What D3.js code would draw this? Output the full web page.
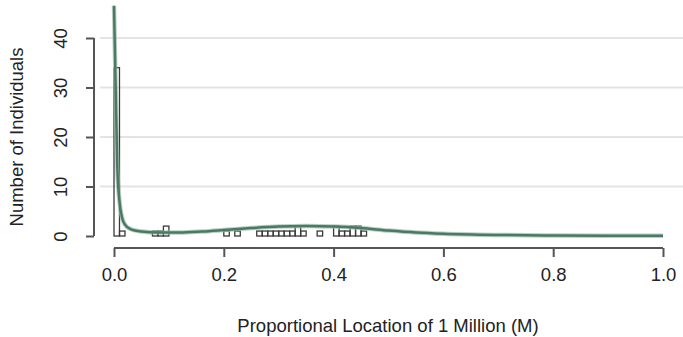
<!DOCTYPE html>
<html>
<head>
<meta charset="utf-8">
<script src="https://cdn.jsdelivr.net/npm/d3@7"></script>
<style>
  body { margin: 0; background: #fff; }
  svg text { font-family: "Liberation Sans", Arial, sans-serif; fill: #222; }
</style>
</head>
<body>
<svg id="chart" width="683" height="337"></svg>
<script>
// histogram bins (left edge, width 0.01) and counts
const binStarts = [0.00, 0.01, 0.07, 0.08, 0.09, 0.20, 0.22, 0.26, 0.27, 0.28, 0.29, 0.30,
                   0.31, 0.32, 0.33, 0.34, 0.37, 0.40, 0.41, 0.42, 0.43, 0.44, 0.45];
const binCounts = [34, 1, 1, 1, 2, 1, 1, 1, 1, 1, 1, 1,
                   1, 1, 2, 1, 1, 2, 1, 1, 2, 2, 1];
const binWidth = 0.01;

// smoothed density curve, scaled to counts
const curveX = [0.000, 0.003, 0.006, 0.010, 0.015, 0.020, 0.030, 0.050, 0.080, 0.120, 0.160,
                0.200, 0.250, 0.300, 0.350, 0.400, 0.450, 0.500, 0.550, 0.600, 0.700, 0.800, 0.900, 1.000];
const curveY = [46.5, 30, 14, 7, 3.6, 2.3, 1.4, 0.9, 0.7, 0.7, 0.9,
                1.2, 1.6, 1.9, 2.0, 1.9, 1.6, 1.1, 0.7, 0.45, 0.2, 0.1, 0.05, 0.03];

const xTicks = [0, 0.2, 0.4, 0.6, 0.8, 1.0];
const yTicks = [0, 10, 20, 30, 40];

const svg = d3.select("#chart");
const x = d3.scaleLinear().domain([0, 1]).range([114, 663]);
const y = d3.scaleLinear().domain([0, 40]).range([236, 38]);
const axisColor = "#555";
const fs = 18.5;

// gridlines
svg.append("g").selectAll("line")
  .data(yTicks.filter(d => d > 0))
  .enter().append("line")
    .attr("x1", 100).attr("x2", 683)
    .attr("y1", d => y(d)).attr("y2", d => y(d))
    .attr("stroke", "#e4e4e4").attr("stroke-width", 2);

// histogram
svg.append("g").selectAll("rect")
  .data(binStarts.map((s, i) => ({s, c: binCounts[i]})))
  .enter().append("rect")
    .attr("x", d => x(d.s))
    .attr("width", d => x(d.s + binWidth) - x(d.s))
    .attr("y", d => y(d.c))
    .attr("height", d => y(0) - y(d.c))
    .attr("fill", "none")
    .attr("stroke", "#3a3a3a")
    .attr("stroke-width", 1.3);

// density line
const line = d3.line()
  .x(d => x(d[0]))
  .y(d => y(d[1]))
  .curve(d3.curveMonotoneX);
const pts = curveX.map((v, i) => [v, curveY[i]]);
svg.append("path").datum(pts)
  .attr("d", line)
  .attr("fill", "none")
  .attr("stroke", "#9dbcae")
  .attr("stroke-width", 4.5)
  .attr("opacity", 0.7);
svg.append("path").datum(pts)
  .attr("d", line)
  .attr("fill", "none")
  .attr("stroke", "#4a7a64")
  .attr("stroke-width", 2.5);

// x axis (R style)
const xAxis = svg.append("g").attr("transform", "translate(0,248)")
  .call(d3.axisBottom(x).tickValues(xTicks).tickFormat(d3.format(".1f")).tickSize(9).tickPadding(11));
xAxis.select(".domain").attr("d", `M${x(0)},0H${x(1)}`).attr("stroke", axisColor).attr("stroke-width", 2);
xAxis.selectAll(".tick line").attr("stroke", axisColor).attr("stroke-width", 2);
xAxis.selectAll("text").attr("font-size", fs).attr("fill", "#222");

// y axis (R style)
const yAxis = svg.append("g").attr("transform", "translate(94,0)")
  .call(d3.axisLeft(y).tickValues(yTicks).tickSize(8).tickPadding(0));
yAxis.select(".domain").attr("d", `M0,${y(0)}V${y(40)}`).attr("stroke", axisColor).attr("stroke-width", 2);
yAxis.selectAll(".tick line").attr("stroke", axisColor).attr("stroke-width", 2);
yAxis.selectAll("text")
  .attr("font-size", fs).attr("fill", "#222")
  .attr("x", 0).attr("dy", 0)
  .attr("text-anchor", "middle")
  .attr("transform", "translate(-32,0) rotate(-90)")
  .attr("dominant-baseline", "middle");

// axis titles
svg.append("text")
  .attr("x", 388).attr("y", 332)
  .attr("text-anchor", "middle")
  .attr("font-size", fs)
  .text("Proportional Location of 1 Million (M)");
svg.append("text")
  .attr("transform", "translate(23,137) rotate(-90)")
  .attr("text-anchor", "middle")
  .attr("font-size", fs)
  .text("Number of Individuals");
</script>
</body>
</html>
